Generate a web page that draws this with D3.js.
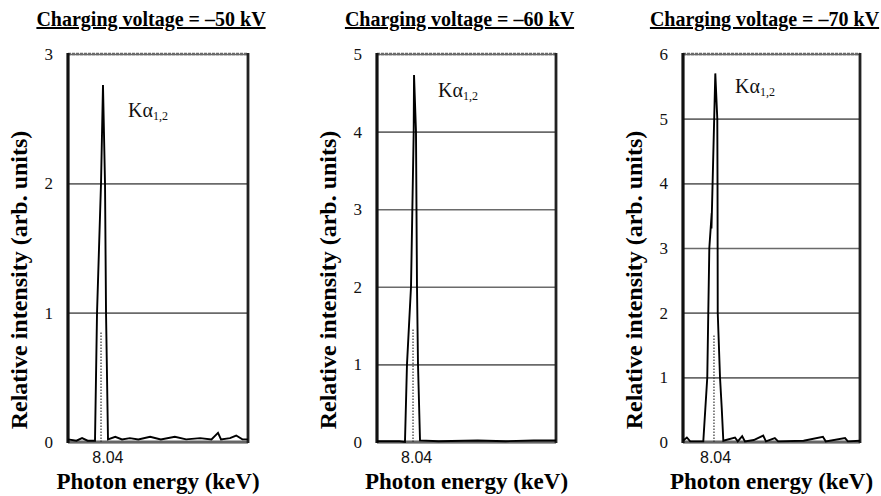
<!DOCTYPE html>
<meta charset="utf-8">
<style>
body { margin: 0; background: #fff; }
svg text { font-family: "Liberation Serif", "Times New Roman", serif; }
.grid line { stroke: #6a6a6a; stroke-width: 1.6; }
.grid path { stroke-width: 0; }
.grid text { font-size: 17px; fill: #111; font-family: "Liberation Serif", serif; }
.xax path, .xax line { stroke-width: 0; }
.xax text { font-size: 16px; fill: #111; font-family: "Liberation Sans", Arial, sans-serif; }
</style>
<body>
<svg width="881" height="496"></svg>
<script src="https://d3js.org/d3.v7.min.js"></script>
<script>

// energy in keV, relative intensity in arb. units
var titles = ["Charging voltage = \u201350 kV", "Charging voltage = \u201360 kV", "Charging voltage = \u201370 kV"];
var yMaxes = [3, 5, 6];
var xTicks = [8.04];

var spectrum50 = [
  [7.970, 0.02], [7.985, 0.01], [7.995, 0.03], [8.005, 0.01], [8.018, 0.01],
  [8.0216, 1.0], [8.0287, 2.0], [8.0322, 2.76], [8.0358, 2.0], [8.0376, 1.0],
  [8.0411, 0.02], [8.054, 0.04], [8.066, 0.02], [8.080, 0.03], [8.095, 0.02],
  [8.116, 0.04], [8.135, 0.02], [8.160, 0.04], [8.180, 0.02], [8.205, 0.03],
  [8.225, 0.02], [8.2367, 0.07], [8.242, 0.02], [8.258, 0.03], [8.269, 0.05],
  [8.280, 0.02], [8.290, 0.02]
];
var spectrum60 = [
  [7.970, 0.01], [7.990, 0.01], [8.010, 0.01], [8.020, 0.0],
  [8.0236, 1.0], [8.0308, 2.0], [8.0356, 4.0], [8.0362, 4.73], [8.0397, 4.0],
  [8.0415, 2.0], [8.0433, 1.0], [8.0469, 0.02], [8.080, 0.01], [8.150, 0.02],
  [8.200, 0.01], [8.250, 0.02], [8.290, 0.02]
];
var spectrum70 = [
  [7.982, 0.02], [7.989, 0.07], [7.995, 0.01], [8.0187, 0.01], [8.0259, 1.0],
  [8.0277, 2.0], [8.0296, 3.0], [8.0339, 3.54], [8.0335, 3.3], [8.0404, 5.7],
  [8.0440, 5.0], [8.0444, 4.0], [8.0448, 2.0], [8.0489, 1.0], [8.0520, 0.53],
  [8.0549, 0.02], [8.076, 0.07], [8.081, 0.01], [8.089, 0.09], [8.094, 0.01],
  [8.110, 0.03], [8.127, 0.10], [8.132, 0.01], [8.148, 0.06], [8.154, 0.01],
  [8.200, 0.02], [8.235, 0.08], [8.240, 0.01], [8.275, 0.06], [8.280, 0.01],
  [8.302, 0.02]
];
var spectra = [spectrum50, spectrum60, spectrum70];

// dotted component line inside each peak: [keV, height]
var dottedLines = [[8.0287, 0.85], [8.0344, 1.45], [8.0380, 1.65]];

// K-alpha label anchor: [keV, intensity]
var labelAt = [[8.0767, 2.51], [8.079, 4.45], [8.076, 5.40]];

var xStarts = [7.97, 7.97, 7.982];
var xSpan = 0.32;

var serif = "'Liberation Serif', 'Times New Roman', serif";
var svg = d3.select("svg");
var lefts = [68, 377, 683],
    widths = [180, 179, 177],
    plotTop = 54, plotBottom = 442;

titles.forEach(function(t, i){
  var x0 = lefts[i], w = widths[i];
  var x = d3.scaleLinear().domain([xStarts[i], xStarts[i] + xSpan]).range([x0, x0 + w]);
  var y = d3.scaleLinear().domain([0, yMaxes[i]]).range([plotBottom, plotTop]);
  var g = svg.append("g");

  // grid + tick labels
  g.append("g")
    .attr("class", "grid")
    .attr("transform", "translate(" + x0 + ",0)")
    .call(d3.axisLeft(y).ticks(yMaxes[i]).tickSize(-w).tickPadding(15).tickFormat(d3.format("d")))
    .attr("font-family", serif);

  // frame
  g.append("line").attr("x1", x0).attr("x2", x0 + w).attr("y1", plotTop).attr("y2", plotTop)
    .style("stroke", "#6a6a6a").style("stroke-width", 2.4).style("stroke-dasharray", "3,1");
  g.append("line").attr("x1", x0).attr("x2", x0 + w).attr("y1", plotBottom).attr("y2", plotBottom)
    .style("stroke", "#666").style("stroke-width", 3);
  g.append("line").attr("x1", x0).attr("x2", x0).attr("y1", plotTop - 1).attr("y2", plotBottom + 1)
    .style("stroke", "#111").style("stroke-width", 3.2);
  g.append("line").attr("x1", x0 + w).attr("x2", x0 + w).attr("y1", plotTop - 1).attr("y2", plotBottom + 1)
    .style("stroke", "#222").style("stroke-width", 2.8);

  // dotted component
  g.append("line")
    .attr("x1", x(dottedLines[i][0])).attr("x2", x(dottedLines[i][0]))
    .attr("y1", y(0)).attr("y2", y(dottedLines[i][1]))
    .style("stroke", "#333").style("stroke-width", 1.2).style("stroke-dasharray", "1.5,1.5");

  // spectrum
  g.append("path")
    .datum(spectra[i])
    .attr("d", d3.line().x(function(d){ return x(d[0]); }).y(function(d){ return y(d[1]); }))
    .style("fill", "none").style("stroke", "#000").style("stroke-width", 1.9);

  // x tick label
  g.append("g")
    .attr("class", "xax")
    .attr("transform", "translate(0," + plotBottom + ")")
    .call(d3.axisBottom(x).tickValues(xTicks).tickSize(0).tickPadding(10).tickFormat(d3.format(".2f")))
    .attr("font-family", "'Liberation Sans', Arial, sans-serif");

  // K alpha label
  var lab = g.append("text")
    .attr("x", x(labelAt[i][0])).attr("y", y(labelAt[i][1]))
    .style("font-family", serif)
    .style("font-size", "20px").style("fill", "#111");
  lab.append("tspan").text("K\u03b1");
  lab.append("tspan").attr("dy", 3).style("font-size", "12px").text("1,2");

  // panel title
  svg.append("text")
    .attr("x", x0 + w / 2 - 7).attr("y", 26)
    .attr("text-anchor", "middle")
    .style("font-family", serif)
    .style("font-size", "20px").style("font-weight", "bold")
    .style("text-decoration", "underline")
    .text(t);

  // axis titles
  svg.append("text")
    .attr("x", x0 + w / 2).attr("y", 489)
    .attr("text-anchor", "middle")
    .style("font-family", serif)
    .style("font-size", "23px").style("font-weight", "bold")
    .text("Photon energy (keV)");

  svg.append("text")
    .attr("transform", "translate(" + (x0 - 41) + "," + 280 + ") rotate(-90)")
    .attr("text-anchor", "middle")
    .style("font-family", serif)
    .style("font-size", "24px").style("font-weight", "bold")
    .text("Relative intensity (arb. units)");
});

</script>
</body>
</html>
